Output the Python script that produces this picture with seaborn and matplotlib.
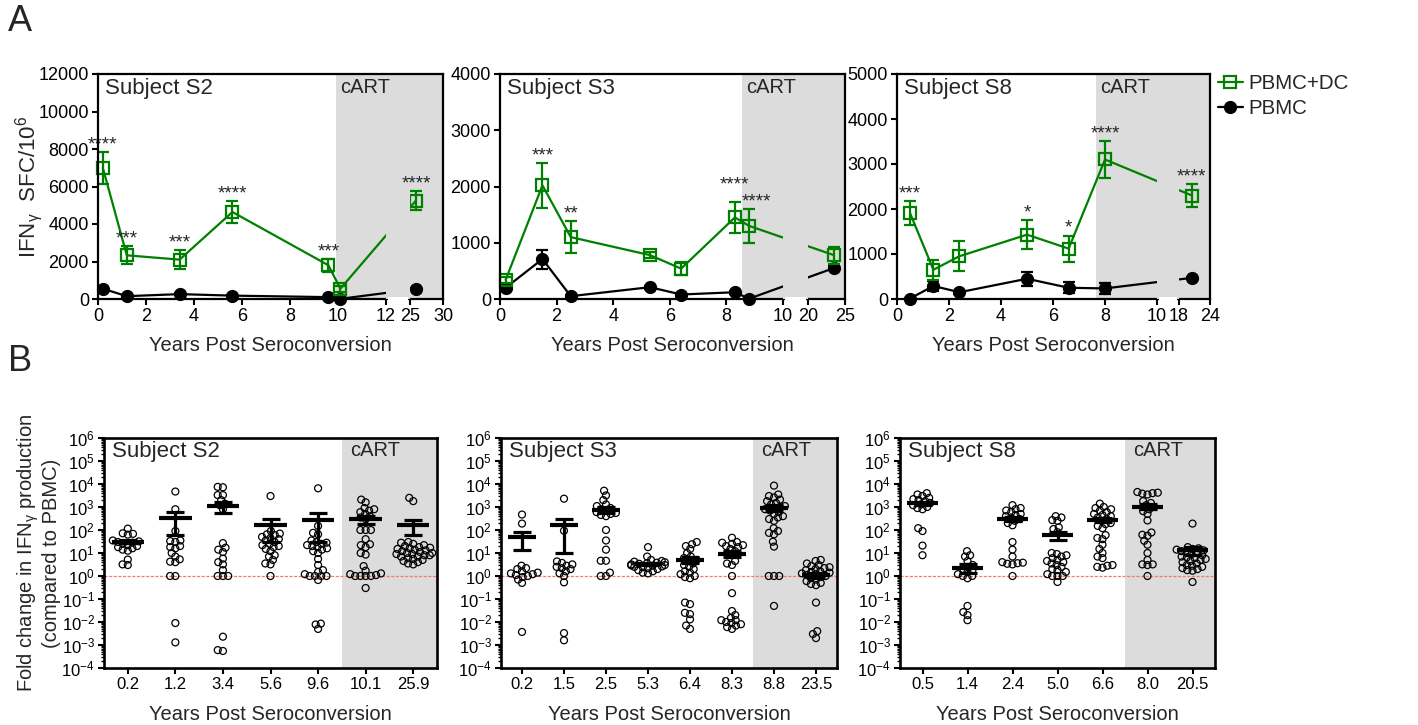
import warnings
import numpy as np
import pandas as pd
import matplotlib
matplotlib.use('Agg')
import matplotlib.pyplot as plt
from matplotlib.lines import Line2D
from matplotlib.patches import Rectangle
from matplotlib.ticker import LogLocator, NullFormatter
import seaborn as sns

warnings.filterwarnings('ignore')

# ---------------- A: IFNg SFC/10^6 over time ----------------
s2_years = [0.2, 1.2, 3.4, 5.6, 9.6, 10.1, 25.9]
s2_dc = [7000, 2330, 2100, 4640, 1800, 550, 5250]
s2_dc_sem = [850, 480, 500, 600, 350, 150, 500]
s2_pbmc = [550, 150, 260, 180, 100, 10, 530]
s2_pbmc_sem = [60, 30, 40, 30, 30, 5, 50]
s2_stars = ['****', '***', '***', '****', '***', '', '****']

s3_years = [0.2, 1.5, 2.5, 5.3, 6.4, 8.3, 8.8, 23.5]
s3_dc = [340, 2020, 1100, 780, 540, 1450, 1300, 780]
s3_dc_sem = [60, 400, 290, 50, 120, 270, 300, 150]
s3_pbmc = [200, 710, 50, 210, 80, 120, 5, 550]
s3_pbmc_sem = [30, 170, 20, 30, 20, 30, 5, 40]
s3_stars = ['', '***', '**', '', '', '****', '****', '']

s8_years = [0.5, 1.4, 2.4, 5.0, 6.6, 8.0, 20.5]
s8_dc = [1910, 650, 950, 1430, 1120, 3100, 2300]
s8_dc_sem = [260, 220, 330, 320, 290, 420, 260]
s8_pbmc = [10, 290, 150, 450, 250, 235, 470]
s8_pbmc_sem = [5, 120, 30, 160, 120, 120, 30]
s8_stars = ['***', '', '', '*', '*', '****', '****']

# ---------------- B: fold change (PBMC+DC / PBMC) ----------------
s2_labels = ['0.2', '1.2', '3.4', '5.6', '9.6', '10.1', '25.9']
s2_fold = [
    [115, 72, 68, 63, 35, 32, 30, 28, 25, 22, 20, 18, 16, 14, 12.6, 5.2, 3.0, 3.2],
    [4700, 800, 90, 35, 33, 30, 20, 18, 16, 10, 7, 5.3, 4.2, 4.0, 1.0, 1.0, 0.009, 0.0013],
    [7200, 7500, 3300, 3300, 2000, 1400, 1200, 800, 27, 17, 14, 11, 5.7, 4, 3.2, 1.8, 1, 1, 1, 0.0023, 0.00055, 0.0006],
    [3000, 90, 70, 65, 60, 50, 45, 40, 35, 30, 25, 22, 20, 18, 15, 12, 8, 7, 5, 3.5, 3.2, 1.0],
    [6500, 150, 75, 65, 35, 30, 28, 25, 22, 20, 18, 16, 14, 12, 10, 5.5, 3, 1.8, 1.5, 1.2, 1.0, 1.0, 1.0, 1.0, 0.67, 0.0085, 0.005, 0.0078],
    [2100, 1600, 900, 800, 700, 600, 500, 400, 350, 300, 100, 100, 100, 40, 24, 22, 18, 10, 8.5, 2.7, 1.7, 1.3, 1.2, 1.1, 1.0, 1.0, 1.0, 1.0, 0.3],
    [2500, 1800, 30, 28, 25, 22, 20, 18, 17, 16, 15, 14, 13, 12, 11, 10, 10, 9, 9, 8, 8, 7, 7, 6, 5.5, 5, 4.5, 4, 3.5, 3.2],
]
s2_mean = [31, 345, 1070, 165, 280, 290, 165]
s2_sem = [5, 285, 510, 135, 250, 100, 107]

s3_labels = ['0.2', '1.5', '2.5', '5.3', '6.4', '8.3', '8.8', '23.5']
s3_fold = [
    [470, 190, 2.8, 2.2, 2.0, 1.6, 1.4, 1.3, 1.2, 1.1, 1.0, 0.9, 0.7, 0.5, 0.0037],
    [2300, 93, 4.3, 3.7, 3.2, 2.8, 2.5, 2.2, 2.0, 1.6, 1.3, 1.0, 0.53, 0.0033, 0.0016],
    [5100, 3200, 2000, 1300, 1100, 900, 800, 700, 600, 550, 500, 450, 400, 100, 35, 14, 4.6, 4.6, 1.4, 1.0, 1.0],
    [18, 7, 5, 4.5, 4.2, 4, 3.8, 3.6, 3.4, 3.2, 3, 2.9, 2.8, 2.6, 2.5, 2.4, 2.2, 2, 1.8, 1.6, 1.4, 1.3],
    [30, 24, 20, 15, 10, 7, 6, 5, 4.5, 3.5, 3, 2.5, 2, 1.6, 1.4, 1.2, 1.0, 0.9, 0.8, 0.07, 0.06, 0.025, 0.013, 0.022, 0.007, 0.005],
    [46, 30, 28, 25, 22, 20, 18, 15, 12, 10, 8, 4.5, 3.5, 3, 1.0, 0.18, 0.03, 0.02, 0.015, 0.012, 0.01, 0.009, 0.008, 0.007, 0.006, 0.005, 0.012],
    [8500, 3500, 3000, 2600, 2100, 1800, 1500, 1300, 1100, 1000, 900, 800, 700, 600, 500, 400, 350, 300, 250, 120, 90, 75, 65, 31, 19, 1.0, 1.0, 1.0, 0.05],
    [5, 4.5, 3.5, 3, 2.7, 2.4, 2.2, 2, 1.8, 1.6, 1.5, 1.4, 1.3, 1.2, 1.1, 1, 0.9, 0.8, 0.7, 0.6, 0.5, 0.45, 0.4, 0.07, 0.004, 0.002, 0.003],
]
s3_mean = [48, 160, 770, 3.4, 5.0, 9.5, 950, 1.1]
s3_sem = [35, 150, 210, 0.3, 1.5, 3, 300, 0.25]

s8_labels = ['0.5', '1.4', '2.4', '5.0', '6.6', '8.0', '20.5']
s8_fold = [
    [4000, 3500, 3000, 2500, 2200, 2000, 1800, 1500, 1300, 1200, 1000, 900, 800, 120, 90, 21, 8],
    [12, 8, 7, 4.5, 3, 2.5, 2, 1.8, 1.5, 1.2, 1.0, 1.0, 0.8, 0.05, 0.027, 0.02, 0.012],
    [1200, 900, 800, 700, 600, 500, 450, 400, 350, 300, 250, 200, 160, 30, 14, 7, 4, 3.8, 3.6, 3.4, 3.2, 1.0],
    [400, 350, 270, 250, 130, 110, 80, 10, 9, 8, 7, 6, 5, 4.5, 4, 3.5, 3, 2.5, 2, 1.8, 1.5, 1.2, 1.0, 1.0, 1.0, 0.55],
    [1400, 1000, 900, 800, 700, 600, 500, 450, 400, 350, 300, 250, 200, 180, 150, 120, 60, 45, 40, 23, 15, 10, 7, 6, 3, 2.8, 2.5, 2.3],
    [4500, 4200, 4000, 3800, 3500, 1800, 1500, 1200, 1000, 800, 660, 500, 260, 78, 62, 56, 34, 23, 10, 5, 3.2, 3.0, 3.2, 1.0],
    [190, 18, 16, 15, 14, 13, 12, 11, 10, 9, 8, 7, 6.5, 6, 5.5, 5, 4.5, 4, 3.5, 3, 2.8, 2.5, 2.2, 2, 1.8, 1.7, 0.55],
]
s8_mean = [1420, 2.3, 300, 60, 275, 1050, 13]
s8_sem = [250, 1.0, 60, 22, 60, 250, 5]

GREEN = '#008000'
SHADE = '#dcdcdc'
DOT_LAYOUT = 2.7   # marker size used to pack the swarms (GraphPad lets dots overlap)
DOT_SIZE = 5.0     # marker size actually drawn

sns.set_theme(style='ticks')
plt.rcParams['font.family'] = ['Liberation Sans', 'DejaVu Sans']
plt.rcParams['mathtext.fontset'] = 'custom'
plt.rcParams['mathtext.rm'] = 'Liberation Sans'
plt.rcParams['mathtext.it'] = 'Liberation Sans:italic'
plt.rcParams['mathtext.bf'] = 'Liberation Sans:bold'
plt.rcParams['axes.linewidth'] = 1.6
plt.rcParams['xtick.major.width'] = 1.5
plt.rcParams['ytick.major.width'] = 1.5
plt.rcParams['xtick.major.size'] = 4.5
plt.rcParams['ytick.major.size'] = 4.5
plt.rcParams['ytick.minor.width'] = 1.0
plt.rcParams['ytick.minor.size'] = 2.5
plt.rcParams['xtick.color'] = 'black'
plt.rcParams['ytick.color'] = 'black'
plt.rcParams['axes.edgecolor'] = 'black'


def broken_scale(b1, b2, gap, k):
    xs = np.array([-1e3, b1, b2, 1e3])
    ts = np.array([-1e3, b1, b1 + gap, b1 + gap + (1e3 - b2) * k])
    return (lambda x: np.interp(x, xs, ts)), (lambda t: np.interp(t, ts, xs))


def top_panel(ax, years, dc, dc_sem, pbmc, pbmc_sem, stars, cfg, title, ylabel=None):
    fwd, inv = broken_scale(cfg['b1'], cfg['b2'], cfg['gap'], cfg['k'])
    ax.set_xscale('function', functions=(fwd, inv))
    ax.set_xlim(0, cfg['xmax'])
    ax.set_ylim(0, cfg['ymax'])
    ax.axvspan(cfg['cart'], cfg['xmax'], color=SHADE, lw=0, zorder=0)

    df = pd.DataFrame({'years': years, 'dc': dc, 'pbmc': pbmc})
    ax.errorbar(years, pbmc, yerr=pbmc_sem, fmt='none', ecolor='black',
                elinewidth=1.6, capsize=4, capthick=1.6, zorder=3)
    sns.lineplot(data=df, x='years', y='pbmc', ax=ax, color='black', lw=1.6,
                 marker='o', markersize=8.5, markeredgecolor='black',
                 markeredgewidth=1, clip_on=False, zorder=3, legend=False)
    ax.errorbar(years, dc, yerr=dc_sem, fmt='none', ecolor=GREEN,
                elinewidth=1.6, capsize=4, capthick=1.6, zorder=4)
    sns.lineplot(data=df, x='years', y='dc', ax=ax, color=GREEN, lw=1.6,
                 marker='s', markersize=9, markerfacecolor='none',
                 markeredgecolor=GREEN, markeredgewidth=1.6, clip_on=False,
                 zorder=4, legend=False)

    shifts = cfg.get('star_shift', {})
    for i, (x, y, e, s) in enumerate(zip(years, dc, dc_sem, stars)):
        if s:
            dx, dy = shifts.get(i, (0, 0))
            ax.annotate(s, xy=(x, y + e), xytext=(dx, -1 + dy), textcoords='offset points',
                        ha='center', va='bottom', fontsize=13.5, zorder=7)

    # hide the broken part of the x axis
    tr = ax.get_xaxis_transform()
    ax.add_patch(Rectangle((cfg['b1'], 0), cfg['b2'] - cfg['b1'], 1, transform=tr,
                           color=SHADE, lw=0, zorder=5))
    f0, f1 = fwd(0), fwd(cfg['xmax'])
    a = (fwd(cfg['b1']) - f0) / (f1 - f0)
    b = (fwd(cfg['b2']) - f0) / (f1 - f0)
    ax.add_patch(Rectangle((a + 0.006, -0.03), b - a - 0.012, 0.04, transform=ax.transAxes,
                           color='white', lw=0, zorder=6, clip_on=False))
    for side in ('top', 'left', 'right'):
        ax.spines[side].set_zorder(8)

    ax.set_xticks(cfg['xticks'])
    ax.set_xticklabels([str(t) for t in cfg['xticks']])
    ax.set_yticks(np.arange(0, cfg['ymax'] + 1, cfg['ystep']))
    ax.tick_params(labelsize=13, pad=2)
    ax.set_xlabel('Years Post Seroconversion', fontsize=14.5, labelpad=8)
    ax.set_ylabel(ylabel if ylabel else '', fontsize=16, labelpad=-5)
    ax.annotate(title, xy=(0, 1), xycoords='axes fraction', xytext=(5, -3),
                textcoords='offset points', ha='left', va='top', fontsize=16)
    ax.annotate('cART', xy=(cfg['cart'], 1), xycoords=('data', 'axes fraction'),
                xytext=(3, -3), textcoords='offset points', ha='left', va='top',
                fontsize=14.5, zorder=7)


def bottom_panel(ax, labels, groups, means, sems, cart_from, title, ylabel=None):
    rows = [(lab, v) for lab, vals in zip(labels, groups) for v in vals]
    df = pd.DataFrame(rows, columns=['years', 'fold'])
    n = len(labels)
    ax.axvspan(cart_from, n - 0.5, color=SHADE, lw=0, zorder=0)
    sns.swarmplot(data=df, x='years', y='fold', order=labels, ax=ax, log_scale=True,
                  size=DOT_LAYOUT, color='black', facecolor='none', edgecolor='black',
                  linewidth=0.9, zorder=3)
    pos = np.arange(n)
    ax.errorbar(pos, means, yerr=sems, fmt='none', ecolor='black', elinewidth=2.3,
                capsize=6.5, capthick=2.3, zorder=4)
    ax.hlines(means, pos - 0.34, pos + 0.34, color='black', lw=3.0, zorder=4)
    ax.axhline(1, color='#f47c6c', lw=0.9, ls=(0, (2.5, 1.2)), zorder=2)

    ax.set_xlim(-0.5, n - 0.5)
    ax.set_ylim(1e-4, 1e6)
    ax.yaxis.set_major_locator(LogLocator(base=10, numticks=20))
    ax.yaxis.set_minor_locator(LogLocator(base=10, subs=np.arange(2, 10), numticks=20))
    ax.yaxis.set_minor_formatter(NullFormatter())
    ax.tick_params(axis='y', which='minor', left=True, length=2.5, width=1.0)
    ax.tick_params(labelsize=12, pad=2)
    for sp in ax.spines.values():
        sp.set_linewidth(1.9)
    ax.set_xlabel('Years Post Seroconversion', fontsize=14.5, labelpad=9)
    ax.set_ylabel(ylabel if ylabel else '', fontsize=14.5, labelpad=0, linespacing=1.1)
    ax.annotate(title, xy=(0, 1), xycoords='axes fraction', xytext=(6, -2),
                textcoords='offset points', ha='left', va='top', fontsize=16)
    ax.annotate('cART', xy=(cart_from, 1), xycoords=('data', 'axes fraction'),
                xytext=(6, -2), textcoords='offset points', ha='left', va='top',
                fontsize=14.5)


fig = plt.figure(figsize=(14.18, 7.25), dpi=100)

W, H = 1418.0, 725.0


def box(x0, x1, y_top, y_bot):
    return [x0 / W, 1 - y_bot / H, (x1 - x0) / W, (y_bot - y_top) / H]


axA2 = fig.add_axes(box(98, 443, 74, 299))
axA3 = fig.add_axes(box(500, 845, 74, 299))
axA8 = fig.add_axes(box(897, 1210, 74, 299))
axB2 = fig.add_axes(box(104, 437, 438, 668))
axB3 = fig.add_axes(box(501, 837, 438, 668))
axB8 = fig.add_axes(box(900, 1215, 438, 668))

cfg2 = dict(b1=12, b2=25, gap=1.0, k=0.275, xmax=30, ymax=12000, ystep=2000, cart=9.9,
            xticks=[0, 2, 4, 6, 8, 10, 12, 25, 30])
cfg3 = dict(b1=10, b2=20, gap=0.883, k=0.2615, xmax=25, ymax=4000, ystep=1000, cart=8.55,
            xticks=[0, 2, 4, 6, 8, 10, 20, 25], star_shift={5: (0, 7), 6: (5, 0)})
cfg8 = dict(b1=10, b2=18, gap=0.846, k=0.1987, xmax=24, ymax=5000, ystep=1000, cart=7.65,
            xticks=[0, 2, 4, 6, 8, 10, 18, 24])

top_panel(axA2, s2_years, s2_dc, s2_dc_sem, s2_pbmc, s2_pbmc_sem, s2_stars, cfg2,
          'Subject S2', ylabel=r'IFN$_{\mathrm{\gamma}}$  SFC/10$^{6}$')
top_panel(axA3, s3_years, s3_dc, s3_dc_sem, s3_pbmc, s3_pbmc_sem, s3_stars, cfg3, 'Subject S3')
top_panel(axA8, s8_years, s8_dc, s8_dc_sem, s8_pbmc, s8_pbmc_sem, s8_stars, cfg8, 'Subject S8')

bottom_panel(axB2, s2_labels, s2_fold, s2_mean, s2_sem, 4.5, 'Subject S2',
             ylabel='Fold change in IFN$_{\\mathrm{\\gamma}}$ production\n(compared to PBMC)')
bottom_panel(axB3, s3_labels, s3_fold, s3_mean, s3_sem, 5.5, 'Subject S3')
bottom_panel(axB8, s8_labels, s8_fold, s8_mean, s8_sem, 4.5, 'Subject S8')

handles = [Line2D([], [], color=GREEN, lw=1.6, marker='s', ms=9, mfc='none', mec=GREEN, mew=1.6),
           Line2D([], [], color='black', lw=1.6, marker='o', ms=8.5)]
fig.legend(handles, ['PBMC+DC', 'PBMC'], loc='upper left', bbox_to_anchor=(1218 / W, 1 - 74 / H),
           frameon=False, fontsize=14.8, handlelength=1.2, handletextpad=0.3,
           labelspacing=0.3, borderaxespad=0, borderpad=0)

fig.text(8 / W, 1 - 4 / H, 'A', fontsize=26, ha='left', va='top')
fig.text(8 / W, 1 - 344 / H, 'B', fontsize=26, ha='left', va='top')

# pack the swarms with the smaller dots, then freeze them and draw the real dot size
fig.canvas.draw()
for ax in (axB2, axB3, axB8):
    for coll in ax.collections:
        if 'draw' in coll.__dict__:
            del coll.draw
            coll.set_sizes([DOT_SIZE ** 2])

fig.savefig('out.png', dpi=100)
